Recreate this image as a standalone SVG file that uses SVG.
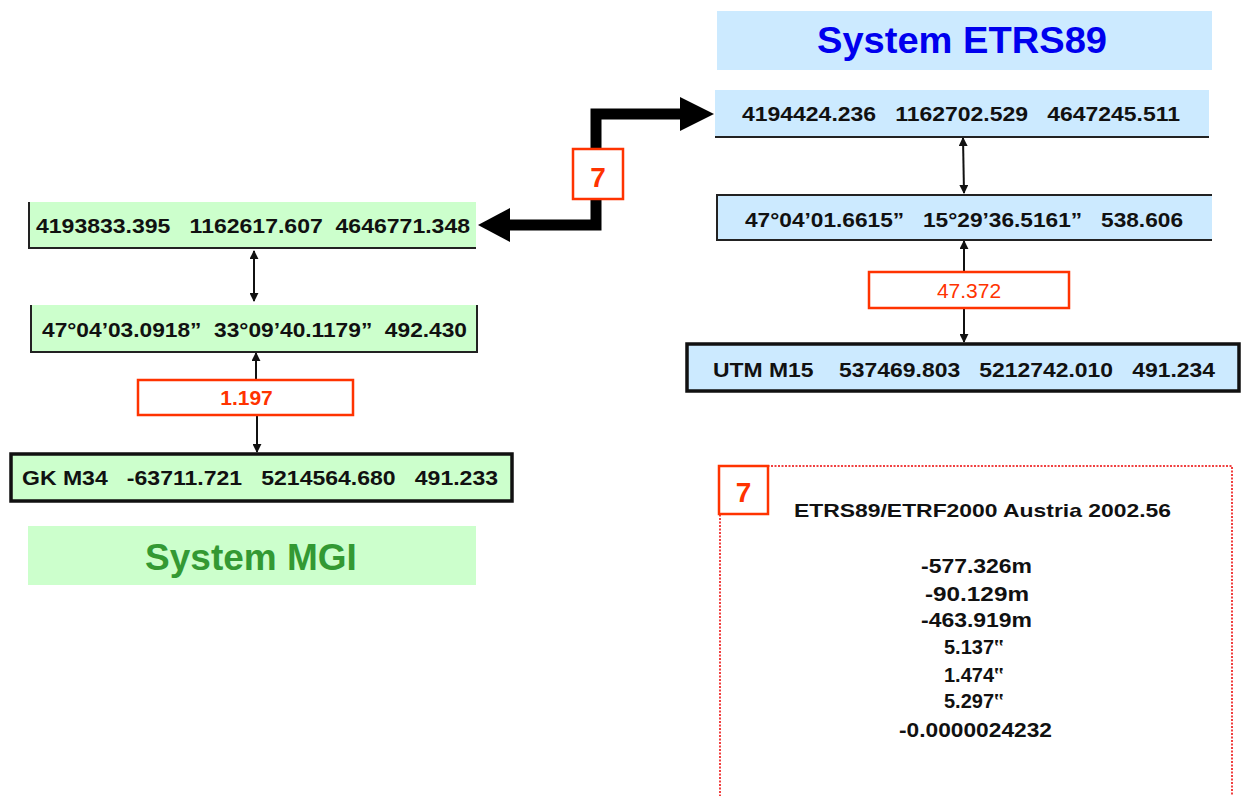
<svg xmlns="http://www.w3.org/2000/svg" width="1241" height="796" viewBox="0 0 1241 796">
<style>
text{white-space:pre;}
.t{font-family:"Liberation Sans",Arial,sans-serif;font-weight:bold;fill:#111;}
.d{font-size:21px;}
.g{fill:#ccffcc;}
.b{fill:#cceaff;}
.edge{stroke:#222;stroke-width:2;fill:none;}
.thick{stroke:#111;stroke-width:3.5;}
.red{fill:#fff;stroke:#ff3300;stroke-width:2.5;}
.rt{font-family:"Liberation Sans",Arial,sans-serif;fill:#ff3300;}
.thin{stroke:#111;stroke-width:2;fill:none;}
</style>
<defs>
<marker id="ah" viewBox="0 0 10 10" refX="9" refY="5" markerWidth="4.5" markerHeight="4.5" orient="auto-start-reverse" markerUnits="strokeWidth">
<path d="M0,0 L10,5 L0,10 z" fill="#111"/>
</marker>
</defs>
<rect width="1241" height="796" fill="#fff"/>

<g id="connectors">
<line class="thin" x1="254" y1="251" x2="254" y2="301" marker-start="url(#ah)" marker-end="url(#ah)"/>
<line class="thin" x1="256" y1="353" x2="256" y2="380" marker-start="url(#ah)"/>
<line class="thin" x1="257" y1="415" x2="257" y2="452" marker-end="url(#ah)"/>
<line class="thin" x1="963" y1="138" x2="964" y2="193" marker-start="url(#ah)" marker-end="url(#ah)"/>
<line class="thin" x1="964" y1="241" x2="964" y2="272" marker-start="url(#ah)"/>
<line class="thin" x1="964" y1="308" x2="964" y2="342" marker-end="url(#ah)"/>
<path d="M508,225 H596 V114 H682" fill="none" stroke="#000" stroke-width="11"/>
<polygon points="478,225 510,208 510,242" fill="#000"/>
<polygon points="714,114 680,97 680,131" fill="#000"/>
</g>

<g id="node-mgi-xyz">
<rect class="g" x="28" y="202" width="448" height="46"/>
<path class="edge" d="M29,202 V248 H476"/>
<text class="t d" x="36" y="233" textLength="434" lengthAdjust="spacingAndGlyphs" xml:space="preserve">4193833.395   1162617.607  4646771.348</text>
</g>

<g id="node-mgi-geo">
<rect class="g" x="30" y="305" width="447" height="47"/>
<path class="edge" d="M31,305 V352 H477 V305"/>
<text class="t d" x="42" y="337" textLength="425" lengthAdjust="spacingAndGlyphs" xml:space="preserve">47°04’03.0918”  33°09’40.1179”  492.430</text>
</g>

<g id="node-mgi-scale">
<rect class="red" x="138" y="380" width="215" height="35"/>
<text class="rt" x="246.5" y="405" font-size="21" font-weight="bold" text-anchor="middle">1.197</text>
</g>

<g id="node-mgi-gk">
<rect class="g thick" x="11" y="454" width="501" height="47"/>
<text class="t d" x="22" y="485" textLength="476" lengthAdjust="spacingAndGlyphs" xml:space="preserve">GK M34   -63711.721   5214564.680   491.233</text>
</g>

<g id="node-mgi-title">
<rect class="g" x="28" y="526" width="448" height="59"/>
<text x="251" y="570" font-family="Liberation Sans,Arial,sans-serif" font-weight="bold" font-size="37" fill="#339933" text-anchor="middle">System MGI</text>
</g>

<g id="node-etrs-title">
<rect class="b" x="717" y="11" width="495" height="59"/>
<text x="962" y="53" font-family="Liberation Sans,Arial,sans-serif" font-weight="bold" font-size="37" fill="#0000ee" text-anchor="middle" textLength="290" lengthAdjust="spacingAndGlyphs">System ETRS89</text>
</g>

<g id="node-etrs-xyz">
<rect class="b" x="715" y="90" width="494" height="47"/>
<path class="edge" d="M715,137 H1209"/>
<text class="t d" x="742" y="121" textLength="438" lengthAdjust="spacingAndGlyphs" xml:space="preserve">4194424.236   1162702.529   4647245.511</text>
</g>

<g id="node-etrs-geo">
<rect class="b" x="716" y="194" width="496" height="46"/>
<path class="edge" d="M1212,195 H717 V240 H1212"/>
<text class="t d" x="745" y="227" textLength="438" lengthAdjust="spacingAndGlyphs" xml:space="preserve">47°04’01.6615”   15°29’36.5161”   538.606</text>
</g>

<g id="node-etrs-scale">
<rect class="red" x="869" y="272" width="200" height="36"/>
<text class="rt" x="969" y="298" font-size="21" text-anchor="middle">47.372</text>
</g>

<g id="node-etrs-utm">
<rect class="b thick" x="687" y="344" width="552" height="47"/>
<text class="t d" x="713" y="377" textLength="502" lengthAdjust="spacingAndGlyphs" xml:space="preserve">UTM M15    537469.803   5212742.010   491.234</text>
</g>

<g id="node-transform-label">
<rect class="red" x="573" y="149" width="50" height="50"/>
<text class="rt" x="598" y="187" font-size="28" font-weight="bold" text-anchor="middle">7</text>
</g>

<g id="node-parameters">
<path d="M720,800 V466 H1232 V800" fill="none" stroke="#f04040" stroke-width="2" stroke-dasharray="2 1.5"/>
<rect class="red" x="719" y="466" width="49" height="48"/>
<text class="rt" x="743.5" y="502" font-size="28" font-weight="bold" text-anchor="middle">7</text>
<text class="t" font-size="19" x="794" y="517" textLength="377" lengthAdjust="spacingAndGlyphs">ETRS89/ETRF2000 Austria 2002.56</text>
<g font-size="20" text-anchor="middle">
<text class="t" x="976.5" y="573" textLength="111" lengthAdjust="spacingAndGlyphs">-577.326m</text>
<text class="t" x="977" y="601" textLength="104" lengthAdjust="spacingAndGlyphs">-90.129m</text>
<text class="t" x="976.5" y="627" textLength="111" lengthAdjust="spacingAndGlyphs">-463.919m</text>
<text class="t" x="974" y="654">5.137‟</text>
<text class="t" x="974" y="682">1.474‟</text>
<text class="t" x="974" y="708">5.297‟</text>
<text class="t" x="975.5" y="737" textLength="153" lengthAdjust="spacingAndGlyphs">-0.0000024232</text>
</g>
</g>
</svg>
